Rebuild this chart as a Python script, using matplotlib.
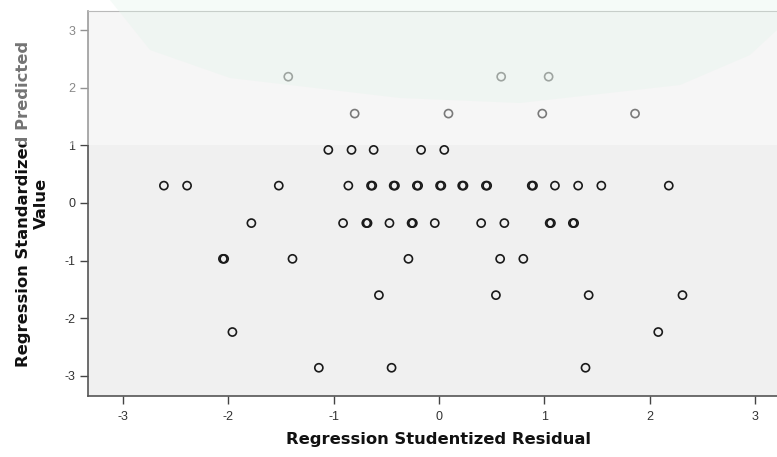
import matplotlib
matplotlib.use("Agg")
import matplotlib.pyplot as plt
from matplotlib.patches import Rectangle, Polygon

plt.rcParams['font.family'] = ['Liberation Sans Narrow', 'Liberation Sans', 'DejaVu Sans']
plt.rcParams['axes.unicode_minus'] = False

# Data (studentized residual, standardized predicted value)
row_y = [2.19, 1.55, 0.92, 0.30, -0.35, -0.97, -1.60, -2.24, -2.86]
row_x = [
    [-1.43, 0.59, 1.04],
    [-0.80, 0.09, 0.98, 1.86],
    [-1.05, -0.83, -0.62, -0.17, 0.05],
    [-2.61, -2.39, -1.52, -0.86, -0.645, -0.43, -0.21, 0.01, 0.22, 0.445,
     0.88, 1.10, 1.32, 1.54, 2.18],
    [-1.78, -0.91, -0.69, -0.47, -0.26, -0.04, 0.40, 0.62, 1.05, 1.27],
    [-2.05, -1.39, -0.29, 0.58, 0.80],
    [-0.57, 0.54, 1.42, 2.31],
    [-1.96, 2.08],
    [-1.14, -0.45, 1.39],
]
# duplicated (overlapping) cases drawn bolder
dup_x = [-0.645, -0.43, -0.21, 0.01, 0.22, 0.445, 0.88, -0.69, -0.26, 1.05, 1.27, -2.05]
dup_y = [0.30, 0.30, 0.30, 0.30, 0.30, 0.30, 0.30, -0.35, -0.35, -0.35, -0.35, -0.97]

xs = [x for r, y in zip(row_x, row_y) for x in r]
ys = [y for r, y in zip(row_x, row_y) for x in r]

W, H = 777, 457
fig = plt.figure(figsize=(W / 100, H / 100), dpi=100)
fig.patch.set_facecolor('white')

left, right, top, bottom = 88, 790, 11, 396
ax = fig.add_axes([left / W, (H - bottom) / H, (right - left) / W, (bottom - top) / H])
ax.set_facecolor('#f0f0f0')
ax.set_xlim(-3.33, 3.33)
ax.set_ylim(-3.35, 3.33)

ax.scatter(xs, ys, s=34, facecolors='none', edgecolors='#1a1a1a', linewidths=1.2, zorder=3)
ax.scatter([x + 0.012 for x in dup_x], dup_y, s=34, facecolors='none',
           edgecolors='#1a1a1a', linewidths=1.2, zorder=3)

ax.set_xticks([-3, -2, -1, 0, 1, 2, 3])
ax.set_yticks([-3, -2, -1, 0, 1, 2, 3])
ax.tick_params(axis='both', direction='out', length=6, width=1, color='#444444',
               labelsize=9, labelcolor='#333333')
ax.tick_params(axis='x', pad=5)
ax.tick_params(axis='y', pad=3)
for s in ['left', 'bottom']:
    ax.spines[s].set_color('#555555')
    ax.spines[s].set_linewidth(1.2)
ax.spines['top'].set_color('#888888')
ax.spines['right'].set_visible(False)

lab_font = dict(family='DejaVu Sans', fontsize=11.8, fontweight='bold', color='#111111')
ax.set_xlabel('Regression Studentized Residual', labelpad=6, **lab_font)
ax.set_ylabel('Regression Standardized Predicted\nValue', labelpad=11,
              linespacing=1.25, **lab_font)

# watermark imitation (light green logo shape + whitening of upper band)
poly_px = [(110, 0), (150, 50), (230, 78), (400, 98), (520, 103), (680, 85),
           (750, 55), (777, 30), (777, 0)]
poly = Polygon([(x / W, 1 - y / H) for x, y in poly_px], closed=True,
               transform=fig.transFigure, facecolor='#cfeedd', alpha=0.35,
               edgecolor='none', zorder=9)
fig.patches.append(poly)
overlay = Rectangle((0, 1 - 145 / H), 1, 145 / H, transform=fig.transFigure,
                    facecolor='white', alpha=0.42, edgecolor='none', zorder=10)
fig.patches.append(overlay)

fig.savefig('out.png', dpi=100)
